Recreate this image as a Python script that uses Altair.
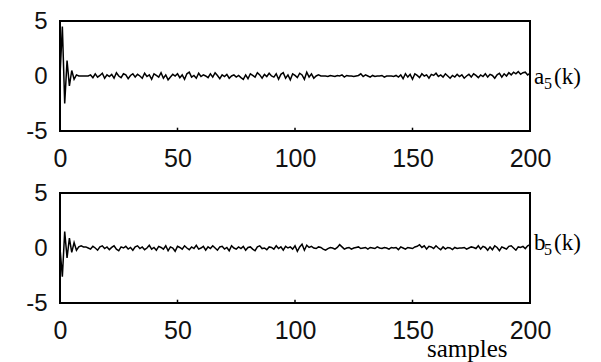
import altair as alt
import pandas as pd

# a5(k) samples, k = 0..200
a_vals = [
    0, 4.5, -2.5, 1.4, -0.9, 0.5, -0.3, 0.1, 0.0, 0.0, 0.0, 0.0, 0.0,
    0.1, -0.15, 0.2, -0.1, 0.05, 0.25, -0.2, 0.1, -0.05, 0.15,
    -0.2, 0.3, 0.0, -0.15, 0.2, 0.1, -0.25, 0.05, 0.2, -0.1,
    0.15, 0.0, -0.2, 0.25, -0.05, 0.1, -0.3, 0.2, 0.05, -0.1,
    0.3, -0.2, 0.1, -0.35, -0.1, 0.15, 0.0, 0.2, -0.15, 0.1,
    -0.3, 0.2, 0.35, -0.1, 0.05, -0.2, 0.25, -0.05, 0.1, 0.0,
    -0.15, 0.2, -0.1, 0.3, 0.05, -0.25, 0.1, -0.05, 0.15, -0.2,
    0.0, 0.1, -0.1, 0.05, -0.15, -0.3, 0.1, -0.25, 0.2, 0.05,
    -0.1, 0.3, 0.1, -0.2, 0.15, -0.05, 0.25, 0.0, -0.1, 0.2,
    -0.3, 0.15, 0.3, -0.2, 0.1, -0.35, 0.2, 0.05, -0.15, 0.25,
    0.1, -0.3, 0.35, -0.1, 0.2, -0.2, 0.0, 0.1, 0.0, 0.0,
    0.0, -0.05, 0.05, 0.0, -0.05, 0.05, 0.0, 0.1, -0.1, 0.05,
    0.0, 0.0, -0.05, 0.0, 0.05, 0.2, -0.05, 0.1, 0.0, -0.1,
    0.05, -0.05, 0.0, 0.0, 0.05, -0.1, 0.0, 0.0, 0.0, -0.05,
    0.05, -0.1, 0.1, -0.25, 0.2, -0.1, 0.15, -0.3, 0.2, 0.05,
    -0.15, 0.2, 0.0, 0.1, -0.2, 0.15, 0.05, 0.25, -0.05, 0.1,
    -0.1, 0.2, 0.0, -0.2, 0.05, -0.1, 0.15, -0.05, 0.1, -0.2,
    0.0, 0.15, -0.1, 0.2, 0.05, -0.15, 0.1, -0.05, 0.2, -0.1,
    0.15, 0.05, -0.2, 0.1, 0.25, -0.1, 0.2, 0.0, 0.3, 0.1,
    0.35, 0.2, 0.4, 0.15, 0.3, 0.35, 0.1, 0.25,
]

# b5(k) samples, k = 0..200
b_vals = [
    0, -2.6, 1.5, -0.9, 0.9, -0.4, 0.5, -0.2, 0.1,
    0.2, 0.1, 0.1, 0.0,
    -0.1, 0.15, 0.0, -0.2, 0.1, 0.2, -0.05, 0.1, -0.15, 0.05,
    0.2, -0.1, -0.25, 0.1, 0.0, 0.15, -0.1, 0.05, -0.2, 0.1,
    0.2, -0.05, 0.1, -0.15, 0.0, 0.25, -0.1, 0.05, -0.2, 0.15,
    0.05, -0.1, 0.2, -0.25, 0.1, 0.0, -0.3, 0.15, 0.05, -0.1,
    0.2, 0.0, -0.15, 0.1, -0.05, 0.25, -0.1, 0.0, 0.15, -0.2,
    0.1, -0.05, 0.2, 0.0, -0.2, 0.1, 0.15, -0.1, 0.05, -0.25,
    0.2, 0.0, -0.1, 0.1, -0.05, 0.15, -0.2, 0.05, 0.1, -0.1,
    -0.25, 0.1, 0.2, -0.05, 0.0, -0.15, 0.1, 0.05, -0.1, 0.2,
    -0.05, 0.1, -0.2, 0.15, 0.0, 0.1, -0.1, 0.2, -0.3, 0.1,
    0.35, -0.2, 0.25, 0.05, 0.15, 0.0, -0.05, 0.1, 0.05, -0.1,
    -0.2, -0.05, 0.05, 0.0, -0.1, 0.05, 0.3, 0.1, -0.1, 0.0,
    0.05, -0.1, 0.0, 0.05, 0.1, -0.05, 0.0, 0.05, -0.1, 0.05,
    0.0, -0.05, 0.1, 0.0, -0.05, 0.05, 0.0, -0.1, 0.05, 0.0,
    0.05, -0.15, 0.1, 0.0, -0.1, 0.05, 0.0, -0.05, 0.1, 0.15,
    0.3, 0.05, 0.2, -0.1, 0.15, 0.1, -0.05, 0.2, 0.0, -0.15,
    0.1, -0.1, 0.05, 0.0, -0.15, 0.05, -0.05, 0.0, 0.0, 0.05,
    -0.1, 0.0, 0.1, 0.05, -0.05, 0.2, -0.1, 0.15, 0.05, -0.2,
    0.1, -0.15, 0.2, 0.05, -0.25, 0.1, 0.0, -0.1, 0.15, 0.2,
    0.0, -0.2, 0.1, 0.05, 0.15, -0.05, 0.2, 0.3,
]

x_ticks = [0, 50, 100, 150, 200]
y_ticks = [-5, 0, 5]
minor_ticks = [50, 100, 150]
x_domain = [0, 200]
y_domain = [-5, 5]

SANS = "Liberation Sans"
SERIF = "Liberation Serif"
W, H = 470, 110


def panel(vals, letter, label_y, extra=None):
    df = pd.DataFrame({"k": list(range(len(vals))), "v": vals})
    x = alt.X(
        "k:Q",
        scale=alt.Scale(domain=x_domain, nice=False, zero=False),
        axis=alt.Axis(values=x_ticks, title=None, grid=False, domain=False, ticks=False,
                      labelFont=SANS, labelFontSize=25, labelColor="#111111",
                      labelPadding=15, labelFlush=False, labelOverlap=False,
                      labelExpr="datum.value + ''"),
    )
    y = alt.Y(
        "v:Q",
        scale=alt.Scale(domain=y_domain, nice=False, zero=False),
        axis=alt.Axis(values=y_ticks, title=None, grid=False, domain=False, ticks=False,
                      labelFont=SANS, labelFontSize=24, labelColor="#111111",
                      labelPadding=13, minExtent=43, maxExtent=43, labelOverlap=False,
                      labelExpr="datum.value + ''"),
    )
    line = alt.Chart(df).mark_line(color="black", strokeWidth=1.5).encode(x=x, y=y)
    tdf = pd.DataFrame({"t": minor_ticks, "y0": [y_domain[0]] * 3, "y1": [-4.7] * 3})
    ticks = alt.Chart(tdf).mark_rule(color="black", strokeWidth=1.5).encode(
        x=alt.X("t:Q"), y=alt.Y("y0:Q"), y2="y1:Q")
    ldf = pd.DataFrame({"a": [letter], "s": ["5"], "k": ["(k)"]})
    t1 = alt.Chart(ldf).mark_text(font=SERIF, fontSize=23, align="left", baseline="alphabetic",
                                  color="black").encode(x=alt.value(474), y=alt.value(label_y), text="a:N")
    t2 = alt.Chart(ldf).mark_text(font=SERIF, fontSize=16, align="left", baseline="alphabetic",
                                  color="black").encode(x=alt.value(484), y=alt.value(label_y + 5), text="s:N")
    t3 = alt.Chart(ldf).mark_text(font=SERIF, fontSize=23, align="left", baseline="alphabetic",
                                  color="black").encode(x=alt.value(494), y=alt.value(label_y), text="k:N")
    layers = [line, ticks, t1, t2, t3]
    if extra is not None:
        layers.append(extra)
    return alt.layer(*layers).properties(width=W, height=H)


sdf = pd.DataFrame({"t": ["samples"]})
samples = alt.Chart(sdf).mark_text(font=SERIF, fontSize=25, align="left", baseline="alphabetic",
                                   color="black").encode(x=alt.value(367), y=alt.value(164), text="t:N")

top = panel(a_vals, "a", 63)
bottom = panel(b_vals, "b", 57, samples)

chart = alt.vconcat(top, bottom, spacing=8).properties(
    padding={"left": 8, "top": 0, "right": 0, "bottom": 0}
).configure(background="white").configure_view(stroke="black", strokeWidth=2)

chart.save("out.html", embed_options={"renderer": "svg", "actions": False})
